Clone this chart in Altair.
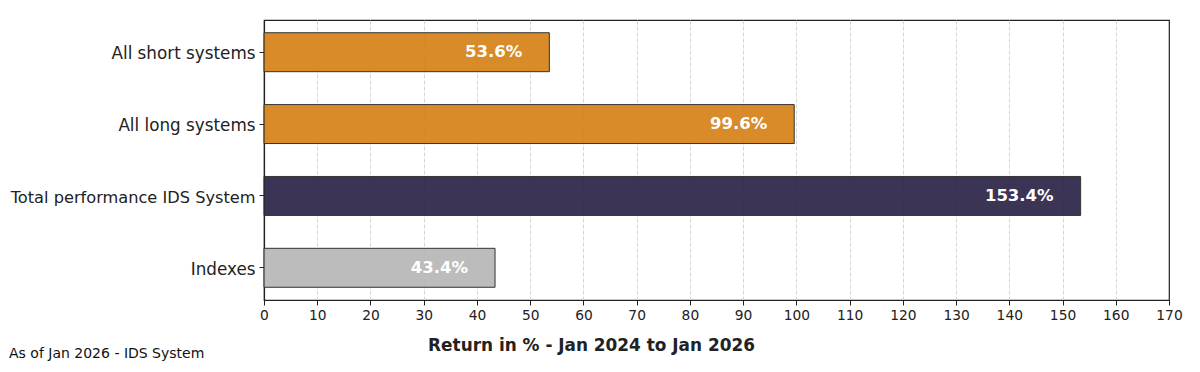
import altair as alt
import pandas as pd

categories = ["All short systems", "All long systems", "Total performance IDS System", "Indexes"]
values = [53.6, 99.6, 153.4, 43.4]
colors = ["#D57E13", "#D57E13", "#261E43", "#B5B5B5"]
labels = ["53.6%", "99.6%", "153.4%", "43.4%"]
x_ticks = list(range(0, 171, 10))

df = pd.DataFrame({"category": categories, "value": values, "label": labels})

FONT = "DejaVu Sans"

y_enc = alt.Y(
    "category:N",
    sort=categories,
    scale=alt.Scale(paddingInner=0.458, paddingOuter=0.177),
    axis=alt.Axis(
        title=None,
        labelFontSize=alt.expr("length(datum.value) > 20 ? 16.2 : 16.8"),
        labelColor="#222222", tickSize=5, labelOffset=2,
        labelPadding=4, tickColor="#222222", labelFont=FONT,
        labelLimit=400, domain=True, domainColor="#222222", domainWidth=1.2,
    ),
)
x_enc = alt.X(
    "value:Q",
    scale=alt.Scale(domain=[0, 170], nice=False, zero=True),
    axis=alt.Axis(
        values=x_ticks, title="Return in % - Jan 2024 to Jan 2026",
        titleFontSize=16.9, titleFontWeight="bold", titleColor="#222222",
        titleFont=FONT, titlePadding=16, titleX=327, titleAlign="center",
        titleAnchor="start",
        labelFontSize=13.8, labelColor="#222222", labelFont=FONT,
        labelFlush=False,
        tickSize=5, tickColor="#222222", labelPadding=3,
        grid=True,
        gridColor=alt.expr("datum.value == 0 || datum.value == 170 ? 'transparent' : '#cccccc'"),
        gridDash=[4, 2], gridWidth=0.8,
        domain=True, domainColor="#222222", domainWidth=1.2,
    ),
)

bars = alt.Chart(df).mark_bar(
    fillOpacity=0.9, stroke="#333333", strokeWidth=1
).encode(
    x=x_enc,
    y=y_enc,
    color=alt.Color("category:N", scale=alt.Scale(domain=categories, range=colors), legend=None),
)

text = alt.Chart(df).mark_text(
    align="right", baseline="middle", dx=-27, fontSize=16.5, fontWeight="bold",
    color="white", font=FONT,
).encode(
    x="value:Q",
    y=alt.Y("category:N", sort=categories),
    text="label:N",
)

footer_df = pd.DataFrame({"t": ["As of Jan 2026 - IDS System"]})
footer = alt.Chart(footer_df).mark_text(
    align="left", baseline="alphabetic", fontSize=14, color="#111111", font=FONT,
).encode(
    x=alt.value(-255),
    y=alt.value(338),
    text="t:N",
)

chart = alt.layer(bars, text, footer).properties(
    width=905, height=280,
    autosize=alt.AutoSizeParams(type="none"),
    padding={"left": 256, "top": 12, "right": 23, "bottom": 62},
).configure_view(
    stroke="#222222", strokeWidth=1.2
)

chart.save("out.html", embed_options={"renderer": "svg", "actions": False})
